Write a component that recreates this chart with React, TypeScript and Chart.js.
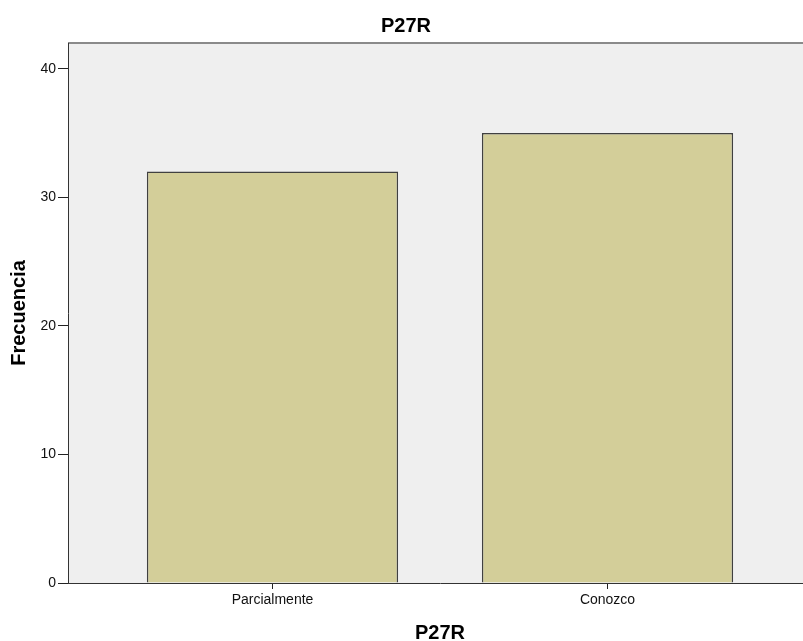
import React, { useEffect, useRef } from "react";
import { Chart, registerables } from "chart.js";

Chart.register(...registerables);

const categories: string[] = ["Parcialmente", "Conozco"];
const frequencies: number[] = [32, 35];
const yTicks: number[] = [0, 10, 20, 30, 40];
const chartTitle = "P27R";
const xTitle = "P27R";
const yTitle = "Frecuencia";

const backgroundPlugin = {
  id: "plotBackground",
  beforeDraw(chart: any) {
    const { ctx, chartArea } = chart;
    ctx.save();
    ctx.fillStyle = "#EFEFEF";
    ctx.fillRect(chartArea.left, chartArea.top, chartArea.right - chartArea.left, chartArea.bottom - chartArea.top);
    ctx.fillStyle = "#8A8A8A";
    ctx.fillRect(chartArea.left, chartArea.top - 1, chartArea.right - chartArea.left, 2);
    ctx.restore();
  },
};

export default function App() {
  const ref = useRef<HTMLCanvasElement | null>(null);

  useEffect(() => {
    if (!ref.current) return;
    const points = categories.map((_, i) => ({ x: i, y: frequencies[i] }));
    const chart = new Chart(ref.current, {
      type: "bar",
      data: {
        datasets: [
          {
            data: points,
            backgroundColor: "#D3CE99",
            borderColor: "#404040",
            borderWidth: 1.5,
            categoryPercentage: 0.75,
            barPercentage: 1,
          },
        ],
      },
      plugins: [backgroundPlugin],
      options: {
        animation: false,
        responsive: false,
        maintainAspectRatio: false,
        layout: { padding: 0 },
        plugins: {
          legend: { display: false },
          tooltip: { enabled: false },
          title: {
            display: true,
            text: chartTitle,
            color: "#000",
            font: { family: "'Liberation Sans', Arial, sans-serif", size: 20, weight: "bold" },
            padding: { top: 14, bottom: 5 },
          },
        },
        scales: {
          x: {
            type: "linear",
            min: -0.6104,
            max: 1.6104,
            offset: false,
            afterFit(scale: any) {
              scale.height = 77;
            },
            afterBuildTicks(scale: any) {
              scale.ticks = categories.map((_, i) => ({ value: i }));
            },
            ticks: {
              stepSize: 1,
              includeBounds: false,
              autoSkip: false,
              maxRotation: 0,
              color: "#111",
              padding: 3,
              font: { family: "'Liberation Sans', Arial, sans-serif", size: 14 },
              callback: (v: any) => categories[Number(v)] ?? "",
            },
            grid: {
              display: true,
              offset: false,
              drawOnChartArea: false,
              tickLength: 6,
              tickColor: "#222",
            },
            border: { display: true, color: "#333", width: 1 },
            title: {
              display: true,
              text: xTitle,
              color: "#000",
              font: { family: "'Liberation Sans', Arial, sans-serif", size: 20, weight: "bold" },
              padding: { top: 0, bottom: 15 },
            },
          },
          y: {
            type: "linear",
            min: 0,
            max: 42,
            afterFit(scale: any) {
              scale.width = 68;
            },
            afterBuildTicks(scale: any) {
              scale.ticks = yTicks.map((v) => ({ value: v }));
            },
            ticks: {
              stepSize: 10,
              includeBounds: false,
              color: "#111",
              padding: 2,
              font: { family: "'Liberation Sans', Arial, sans-serif", size: 14 },
            },
            grid: {
              display: true,
              drawOnChartArea: false,
              tickLength: 10,
              tickColor: "#222",
            },
            border: { display: true, color: "#333", width: 1 },
            title: {
              display: true,
              text: yTitle,
              color: "#000",
              font: { family: "'Liberation Sans', Arial, sans-serif", size: 20, weight: "bold" },
              padding: { top: 7, bottom: 0 },
            },
          },
        },
      },
    });
    return () => chart.destroy();
  }, []);

  return (
    <div style={{ position: "fixed", left: 0, top: 0, width: 803, height: 641, overflow: "hidden", background: "#fff" }}>
      <canvas ref={ref} width={812} height={660} style={{ display: "block", width: 812, height: 660 }} />
    </div>
  );
}
